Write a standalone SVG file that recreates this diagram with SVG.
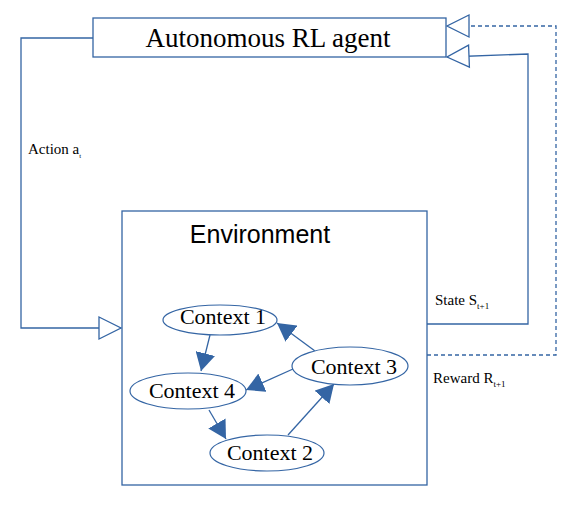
<svg xmlns="http://www.w3.org/2000/svg" width="583" height="507" viewBox="0 0 583 507">
<defs>
<style>
.ln{fill:none;stroke:#3465a4;stroke-width:1.3}
.dash{stroke-dasharray:4,3}
.box{fill:#fff;stroke:#3465a4;stroke-width:1.3}
.ell{fill:#fff;stroke:#3465a4;stroke-width:1.2}
.serif{font-family:"Liberation Serif","Times New Roman",serif;fill:#000}
.sans{font-family:"Liberation Sans",Arial,sans-serif;fill:#000}
</style>
<marker id="hollow" viewBox="0 0 22 22" refX="22" refY="11" markerWidth="22" markerHeight="22" markerUnits="userSpaceOnUse" orient="auto" overflow="visible">
<path d="M0,0 L22,11 L0,22 Z" fill="#fff" stroke="#3465a4" stroke-width="1.3" stroke-dasharray="none"/>
</marker>
<marker id="solid" viewBox="0 0 18 20" refX="18" refY="10" markerWidth="18" markerHeight="20" markerUnits="userSpaceOnUse" orient="auto">
<path d="M0,0 L18,10 L0,20 Z" fill="#3465a4"/>
</marker>
</defs>
<rect width="583" height="507" fill="#fff"/>
<g id="connectors">
<path class="ln" d="M93,38 H21 V328 H121" marker-end="url(#hollow)"/>
<path class="ln" d="M427,324 H528 V54 L447,57" marker-end="url(#hollow)"/>
<path class="ln dash" d="M427,355 H556 V26 H447" marker-end="url(#hollow)"/>
</g>
<g id="agent">
<rect class="box" x="93" y="18" width="353" height="39"/>
<text class="serif" x="268" y="47" font-size="27" text-anchor="middle">Autonomous RL agent</text>
</g>
<g id="environment">
<rect class="box" x="122" y="211" width="305" height="274"/>
<text class="sans" x="260" y="243" font-size="25" text-anchor="middle">Environment</text>
</g>
<g id="labels">
<text class="serif" x="28" y="154" font-size="15">Action a<tspan font-size="7" dy="4">t</tspan></text>
<text class="serif" x="435" y="305" font-size="15">State S<tspan font-size="9" dy="4">t+1</tspan></text>
<text class="serif" x="433" y="383" font-size="15">Reward R<tspan font-size="9" dy="4">t+1</tspan></text>
</g>
<g id="context-connectors">
<path class="ln" d="M210,335 L201,371" marker-end="url(#solid)"/>
<path class="ln" d="M315,351 L277,323" marker-end="url(#solid)"/>
<path class="ln" d="M293,369 L246,390" marker-end="url(#solid)"/>
<path class="ln" d="M209,410 L226,439" marker-end="url(#solid)"/>
<path class="ln" d="M288,435 L334,384" marker-end="url(#solid)"/>
</g>
<g id="context1">
<ellipse class="ell" cx="220" cy="320" rx="57" ry="15"/>
<text class="serif" x="223" y="324" font-size="22" text-anchor="middle">Context 1</text>
</g>
<g id="context3">
<ellipse class="ell" cx="350" cy="366" rx="58" ry="19"/>
<text class="serif" x="354" y="374" font-size="22" text-anchor="middle">Context 3</text>
</g>
<g id="context4">
<ellipse class="ell" cx="188" cy="391" rx="58" ry="18"/>
<text class="serif" x="192" y="398" font-size="22" text-anchor="middle">Context 4</text>
</g>
<g id="context2">
<ellipse class="ell" cx="267" cy="453" rx="57" ry="18"/>
<text class="serif" x="270" y="460" font-size="22" text-anchor="middle">Context 2</text>
</g>
</svg>
